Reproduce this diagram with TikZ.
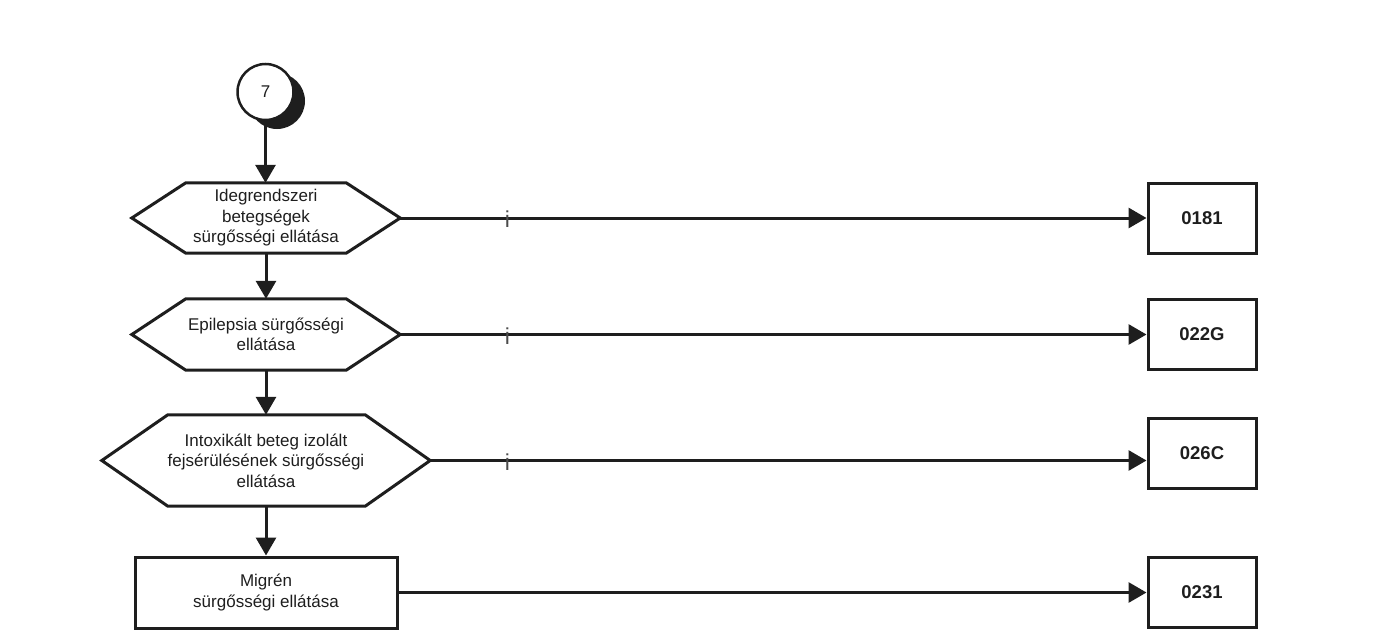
\documentclass[tikz,border=0pt]{standalone}
\usepackage{fontspec}
\setmainfont{Liberation Sans}
\usetikzlibrary{arrows.meta,calc}
\definecolor{inkc}{HTML}{1E1E1E}
\tikzset{
  ink/.style={draw=inkc, line width=3pt, line join=miter},
  conn/.style={draw=inkc, line width=3pt, -{Triangle[length=18pt,width=20pt]}},
  lbl/.style={font=\fontsize{17}{20.5}\selectfont, align=center, text=inkc, inner sep=0pt},
  codebox/.style={ink, minimum width=108pt, minimum height=70pt, inner sep=0pt,
    font=\fontsize{18.5}{20}\selectfont\bfseries, text=inkc},
  ilbl/.style={font=\fontsize{23}{23}\selectfont, text=inkc!80, inner sep=0pt, anchor=base},
}
\begin{document}
\begin{tikzpicture}[x=1pt,y=-1pt]
\useasboundingbox (0,0) rectangle (1381,637);
% connector circle with shadow
\fill[inkc] (277,101) circle (28);
\node[circle, draw=inkc, fill=white, line width=2.5pt, minimum size=56pt, inner sep=0pt,
  font=\fontsize{17}{18}\selectfont, text=inkc] (c7) at (265.5,92) {7};
% hexagons
\node[lbl, minimum width=268pt, minimum height=70pt] (h1) at (266,218)
  {Idegrendszeri\\betegségek\\sürgősségi ellátása};
\draw[ink] (h1.west) -- ($(h1.north west)+(54,0)$) -- ($(h1.north east)+(-54,0)$) -- (h1.east)
  -- ($(h1.south east)+(-54,0)$) -- ($(h1.south west)+(54,0)$) -- cycle;
\node[lbl, minimum width=268pt, minimum height=71pt] (h2) at (266,334.5)
  {Epilepsia sürgősségi\\ellátása};
\draw[ink] (h2.west) -- ($(h2.north west)+(54,0)$) -- ($(h2.north east)+(-54,0)$) -- (h2.east)
  -- ($(h2.south east)+(-54,0)$) -- ($(h2.south west)+(54,0)$) -- cycle;
\node[lbl, minimum width=328pt, minimum height=91pt] (h3) at (266,460.5)
  {Intoxikált beteg izolált\\fejsérülésének sürgősségi\\ellátása};
\draw[ink] (h3.west) -- ($(h3.north west)+(66,0)$) -- ($(h3.north east)+(-65,0)$) -- (h3.east)
  -- ($(h3.south east)+(-65,0)$) -- ($(h3.south west)+(66,0)$) -- cycle;
% rectangle
\node[lbl, ink, minimum width=262pt, minimum height=71pt] (r4) at (266,592.5)
  {Migrén\\sürgősségi ellátása};
% code boxes
\node[codebox] (b1) at (1202,218) {0181};
\node[codebox] (b2) at (1202,334.5) {022G};
\node[codebox] (b3) at (1202,453) {026C};
\node[codebox] (b4) at (1202,592.5) {0231};
% vertical connectors
\draw[conn] (c7) -- (c7 |- h1.north);
\draw[conn] (h1.south) -- (h1.south |- h2.north);
\draw[conn] (h2.south) -- (h2.south |- h3.north);
\draw[conn] (h3.south) -- (h3.south |- r4.north);
% horizontal connectors
\draw[conn] (h1.east) -- (h1.east -| b1.west);
\draw[conn] (h2.east) -- (h2.east -| b2.west);
\draw[conn] (h3.east) -- (h3.east -| b3.west);
\draw[conn] (r4.east) -- (r4.east -| b4.west);
% i labels
\node[ilbl] (i1) at (507.5,227) {i};
\node[ilbl] (i2) at (507.5,344) {i};
\node[ilbl] (i3) at (507.5,470) {i};
\end{tikzpicture}
\end{document}
